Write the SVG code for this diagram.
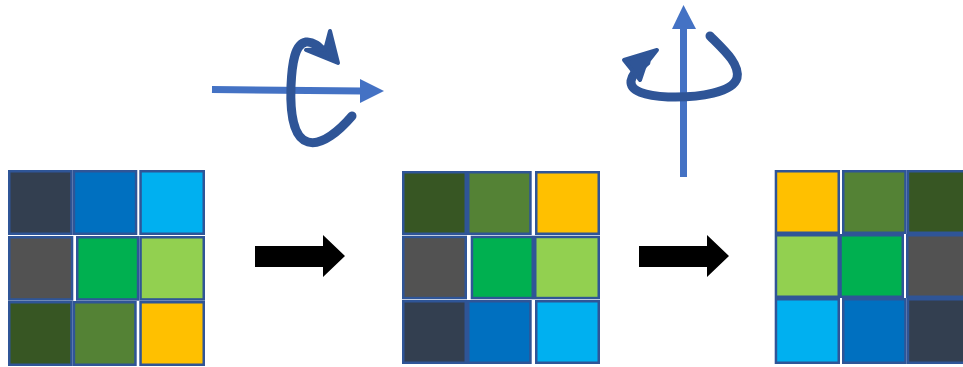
<svg xmlns="http://www.w3.org/2000/svg" width="963" height="367" viewBox="0 0 963 367">
  <style>
    .cell { stroke: #2F5597; stroke-width: 2.5; }
    .c1 { fill: #333F50; }
    .c2 { fill: #0070C0; }
    .c3 { fill: #00B0F0; }
    .c4 { fill: #525252; }
    .c5 { fill: #00B050; }
    .c6 { fill: #92D050; }
    .c7 { fill: #375623; }
    .c8 { fill: #548235; }
    .c9 { fill: #FFC000; }
    .axis { stroke: #4472C4; stroke-width: 7; fill: none; }
    .axis-head { fill: #4472C4; }
    .spin { stroke: #2F5597; stroke-width: 9; fill: none; stroke-linecap: round; }
    .spin-head { fill: #2F5597; stroke: #2F5597; stroke-width: 4; stroke-linejoin: round; }
    .step { fill: #000000; }
  </style>
  <rect width="963" height="367" fill="#FFFFFF"/>

  <!-- initial 3x3 grid -->
  <g id="grid-start">
    <rect class="cell c1" x="9.25" y="171.25" width="62.2" height="62.5"/>
    <rect class="cell c2" x="73.95" y="171.25" width="62.1" height="62.5"/>
    <rect class="cell c3" x="140.55" y="171.25" width="63.2" height="62.5"/>
    <rect class="cell c4" x="9.25" y="237.25" width="62.8" height="62.2"/>
    <rect class="cell c5" x="77.25" y="237.25" width="60.8" height="62.2"/>
    <rect class="cell c6" x="140.55" y="237.25" width="63.2" height="62.2"/>
    <rect class="cell c7" x="9.25" y="302.25" width="62.2" height="62.5"/>
    <rect class="cell c8" x="73.95" y="302.25" width="61.5" height="62.5"/>
    <rect class="cell c9" x="140.55" y="302.25" width="63.2" height="62.5"/>
  </g>

  <!-- grid after turning about the horizontal axis -->
  <g id="grid-flipped">
    <rect class="cell c7" x="403.25" y="172.25" width="62.5" height="61.5"/>
    <rect class="cell c8" x="468.25" y="172.25" width="62.2" height="61.5"/>
    <rect class="cell c9" x="536.25" y="172.25" width="62.5" height="61.5"/>
    <rect class="cell c4" x="403.25" y="236.95" width="62.5" height="61.1"/>
    <rect class="cell c5" x="471.95" y="236.95" width="60.8" height="61.1"/>
    <rect class="cell c6" x="535.25" y="236.95" width="63.5" height="61.1"/>
    <rect class="cell c1" x="403.25" y="301.25" width="62.5" height="61.5"/>
    <rect class="cell c2" x="468.25" y="301.25" width="62.2" height="61.5"/>
    <rect class="cell c3" x="536.25" y="301.25" width="62.5" height="61.5"/>
  </g>

  <!-- grid after turning about the vertical axis -->
  <g id="grid-final">
    <rect class="cell c9" x="775.95" y="171.25" width="62.8" height="61.5"/>
    <rect class="cell c8" x="843.25" y="171.25" width="62.2" height="61.5"/>
    <rect class="cell c7" x="907.95" y="171.25" width="62.8" height="61.5"/>
    <rect class="cell c6" x="775.95" y="235.25" width="62.8" height="61.5"/>
    <rect class="cell c5" x="840.55" y="235.25" width="62.2" height="61.5"/>
    <rect class="cell c4" x="907.25" y="235.25" width="63.5" height="61.5"/>
    <rect class="cell c3" x="775.95" y="299.25" width="62.8" height="63.5"/>
    <rect class="cell c2" x="843.25" y="299.25" width="62.2" height="63.5"/>
    <rect class="cell c1" x="907.95" y="299.25" width="62.8" height="63.5"/>
  </g>

  <g id="connectors">
    <!-- step arrows between grids -->
    <polygon id="step-1" class="step" points="255,246 323,246 323,235 345,256 323,277 323,267 255,267"/>
    <polygon id="step-2" class="step" points="639,246 707,246 707,235 729,256 707,277 707,267 639,267"/>

    <!-- horizontal rotation axis -->
    <g id="axis-horizontal">
      <line class="axis" x1="212" y1="89.5" x2="362" y2="91"/>
      <polygon class="axis-head" points="360,79 384,91 360,103"/>
      <path class="spin" d="M352,116 C340,130 322,146 308,142 C293,138 290,112 291,86 C292,62 295,44 306,42 C314,41 320,48 326,54"/>
      <polygon class="spin-head" points="330,31 338,63 306,50 320,49 325,50"/>
    </g>

    <!-- vertical rotation axis -->
    <g id="axis-vertical">
      <line class="axis" x1="683.5" y1="177" x2="683.5" y2="26"/>
      <polygon class="axis-head" points="672,29 683.5,5 696,29"/>
      <path class="spin" d="M710,36 C724,50 740,64 737,78 C733,92 700,98 668,97 C645,96 630,91 631,81 C632,74 638,68 646,62"/>
      <polygon class="spin-head" points="657,50 624,60 640,80 644,68 646,64"/>
    </g>
  </g>
</svg>
